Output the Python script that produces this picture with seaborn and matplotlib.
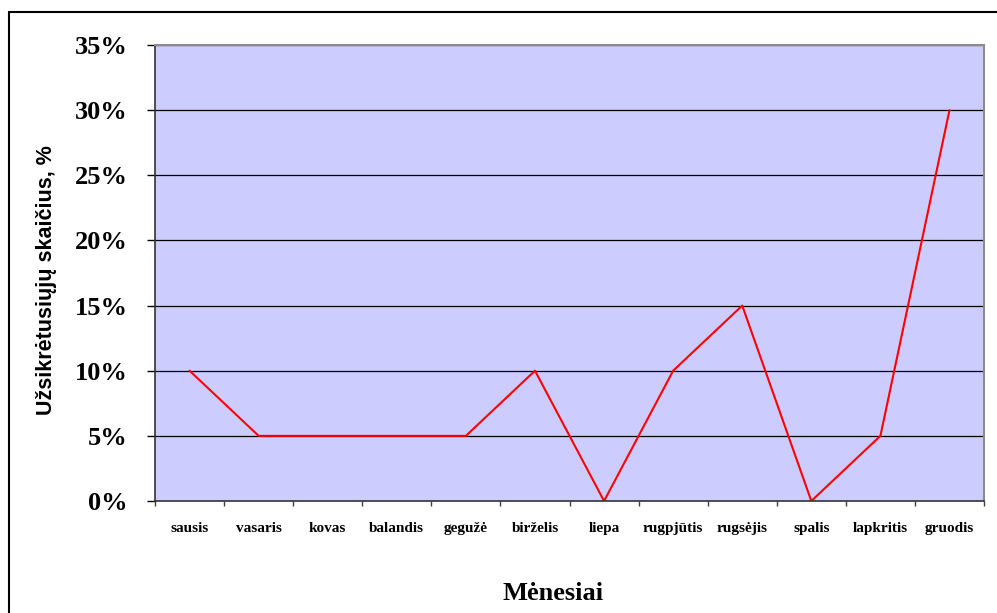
import matplotlib
matplotlib.use("Agg")
import matplotlib.pyplot as plt
from matplotlib.lines import Line2D
from matplotlib.ticker import FixedLocator, PercentFormatter
import seaborn as sns
import pandas as pd

months = ["sausis", "vasaris", "kovas", "balandis", "gegužė", "birželis",
          "liepa", "rugpjūtis", "rugsėjis", "spalis", "lapkritis", "gruodis"]
infected_pct = [10, 5, 5, 5, 5, 10, 0, 10, 15, 0, 5, 30]
y_ticks = [0, 5, 10, 15, 20, 25, 30, 35]

df = pd.DataFrame({"pos": range(len(months)), "month": months, "value": infected_pct})

sns.set_theme(style="white", rc={
    "xtick.bottom": True, "ytick.left": True,
    "text.color": "black", "axes.labelcolor": "black",
    "xtick.color": "black", "ytick.color": "black",
})
plt.rcParams["font.family"] = ["Liberation Serif", "DejaVu Serif"]

fig = plt.figure(figsize=(9.97, 6.13), dpi=100)
ax = fig.add_axes([0.1555, 0.1827, 0.9870 - 0.1555, 0.9266 - 0.1827])
ax.set_facecolor("#CCCCFF")

sns.lineplot(data=df, x="pos", y="value", color="#FF0000", linewidth=1.5, ax=ax)

ax.set_xlim(-0.5, len(months) - 0.5)
ax.set_ylim(0, 35)

# horizontal gridlines at each y tick
ax.yaxis.set_major_locator(FixedLocator(y_ticks))
ax.yaxis.set_major_formatter(PercentFormatter(decimals=0))
for y in y_ticks[1:]:
    ax.axhline(y, color="black", linewidth=0.9, zorder=1)

# category labels centred, ticks at category boundaries
ax.set_xticks(range(len(months)))
ax.set_xticklabels(months, fontsize=11, fontweight="bold")
ax.set_xticks([i - 0.5 for i in range(len(months) + 1)], minor=True)
ax.tick_params(axis="x", which="major", bottom=False, length=0, pad=15)
ax.tick_params(axis="x", which="minor", bottom=True, length=3.8, width=1,
               color="#404040", direction="out")
ax.tick_params(axis="y", left=True, length=6, width=1, color="black",
               direction="out", pad=13.5, labelsize=19)
for lbl in ax.get_yticklabels():
    lbl.set_fontweight("bold")

for side in ["left", "bottom"]:
    ax.spines[side].set_color("#333333")
    ax.spines[side].set_linewidth(1.2)
for side in ["top", "right"]:
    ax.spines[side].set_color("#8C8C8C")
    ax.spines[side].set_linewidth(1.5)

ax.set_xlabel("Mėnesiai", fontsize=19, fontweight="bold")
ax.xaxis.set_label_coords(0.48, -0.202)
ax.set_ylabel("Užsikrėtusiųjų skaičius, %", fontsize=15.5, fontweight="bold",
              family=["Liberation Sans", "DejaVu Sans"])
ax.yaxis.set_label_coords(-0.1315, 0.485)
ax.yaxis.label.set_verticalalignment("center")
ax.xaxis.label.set_verticalalignment("center")

# chart frame
fig.add_artist(Line2D([9 / 997, 1.0], [1 - 12 / 613, 1 - 12 / 613],
                      transform=fig.transFigure, color="black", linewidth=1.5))
fig.add_artist(Line2D([9 / 997, 9 / 997], [0.0, 1 - 12 / 613],
                      transform=fig.transFigure, color="black", linewidth=1.5))

fig.savefig("out.png", dpi=100, facecolor="white")
